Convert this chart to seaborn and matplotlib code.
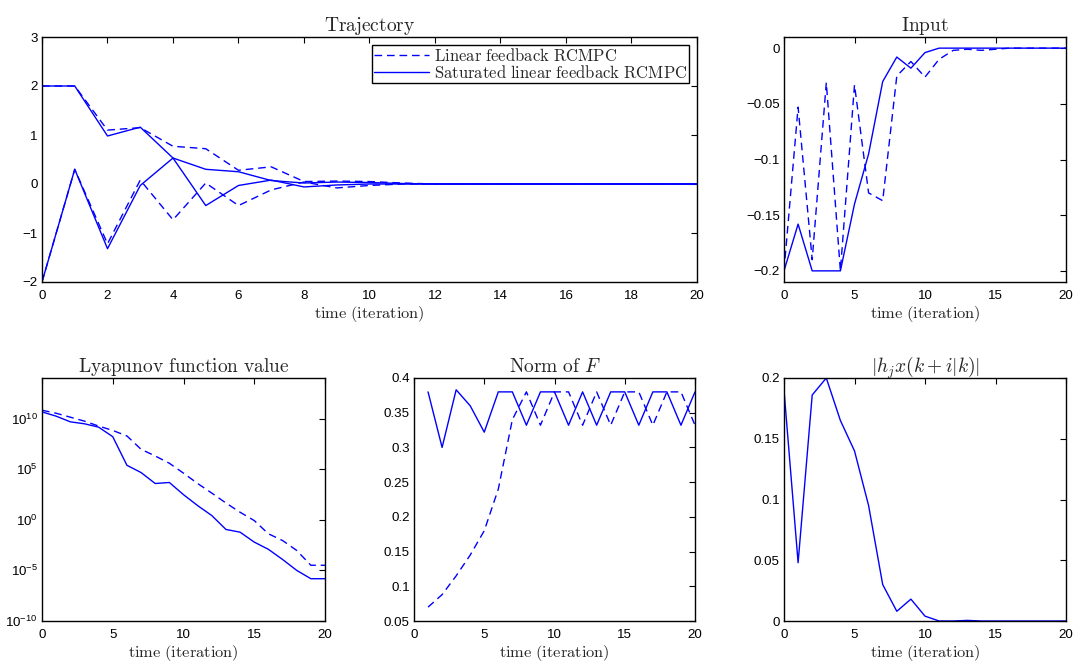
import numpy as np
import pandas as pd
import matplotlib
matplotlib.use("Agg")
import matplotlib.pyplot as plt
from matplotlib.ticker import FuncFormatter, FixedLocator, NullLocator
import seaborn as sns

# ---- data -------------------------------------------------------------
k = list(range(21))

# state trajectories (two states) for both controllers
x1_lin = [2, 2, 1.10, 1.15, 0.77, 0.72, 0.28, 0.35, 0.05, 0.06, 0.05, 0.02, 0.0,
          0.0, 0.0, 0.0, 0.0, 0.0, 0.0, 0.0, 0.0]
x2_lin = [-2, 0.30, -1.22, 0.08, -0.73, 0.02, -0.44, -0.12, 0.04, -0.08, -0.03, 0.0, 0.0,
          0.0, 0.0, 0.0, 0.0, 0.0, 0.0, 0.0, 0.0]
x1_sat = [2, 2, 0.98, 1.16, 0.53, 0.30, 0.25, 0.07, 0.02, 0.04, 0.03, 0.01, 0.0,
          0.0, 0.0, 0.0, 0.0, 0.0, 0.0, 0.0, 0.0]
x2_sat = [-2, 0.30, -1.32, -0.03, 0.53, -0.44, -0.03, 0.08, -0.06, -0.02, 0.0, 0.0, 0.0,
          0.0, 0.0, 0.0, 0.0, 0.0, 0.0, 0.0, 0.0]

# control input
u_lin = [-0.200, -0.053, -0.190, -0.031, -0.200, -0.033, -0.130, -0.137, -0.025, -0.012,
         -0.026, -0.010, -0.002, -0.001, -0.002, -0.001, 0.0, 0.0, 0.0, 0.0, 0.0]
u_sat = [-0.200, -0.158, -0.200, -0.200, -0.200, -0.140, -0.095, -0.030, -0.008, -0.018,
         -0.004, 0.0, 0.0, 0.0, 0.0, 0.0, 0.0, 0.0, 0.0, 0.0, 0.0]

# Lyapunov function value
V_lin = [6.6e10, 3.3e10, 1.35e10, 5.5e9, 1.8e9, 6.6e8, 1.9e8, 9.1e6, 2.0e6, 3.8e5,
         4.0e4, 3.8e3, 4.3e2, 4.5e1, 5.5e0, 8.3e-1, 4.1e-2, 8.9e-3, 9.3e-4, 3.2e-5, 3.2e-5]
V_sat = [4.5e10, 1.7e10, 4.7e9, 3.0e9, 1.4e9, 1.6e8, 2.4e5, 4.6e4, 3.8e3, 4.8e3,
         3.0e2, 2.5e1, 2.6e0, 1.1e-1, 5.9e-2, 6.2e-3, 1.2e-3, 1.2e-4, 1.0e-5, 1.5e-6, 1.5e-6]

# norm of the feedback gain F (k = 1..20)
kF = list(range(1, 21))
F_lin = [0.070, 0.088, 0.115, 0.145, 0.180, 0.240, 0.340, 0.380, 0.332, 0.380,
         0.380, 0.332, 0.380, 0.332, 0.380, 0.380, 0.332, 0.380, 0.380, 0.332]
F_sat = [0.380, 0.300, 0.383, 0.360, 0.322, 0.380, 0.380, 0.332, 0.380, 0.380,
         0.332, 0.380, 0.332, 0.380, 0.380, 0.332, 0.380, 0.380, 0.332, 0.380]

# constraint quantity |h_j x(k+i|k)|
h_sat = [0.190, 0.048, 0.186, 0.200, 0.165, 0.140, 0.095, 0.030, 0.008, 0.018,
         0.004, 0.0, 0.0, 0.0005, 0.0, 0.0, 0.0, 0.0, 0.0, 0.0, 0.0]

# ---- style ------------------------------------------------------------
sns.set_style("white")
plt.rcParams["font.family"] = ["Liberation Sans", "DejaVu Sans"]
plt.rcParams["mathtext.fontset"] = "cm"
plt.rcParams["axes.linewidth"] = 1.0
plt.rcParams["axes.edgecolor"] = "black"

BLUE = (0, 0, 1)
DASH = (0, (5.5, 3.5))
TICK_FS = 9.6
TITLE_FS = 14
LABEL_FS = 11.8

W, H = 1077, 666
fig = plt.figure(figsize=(W / 100, H / 100), dpi=100)


def make_axes(l, r, t, b):
    return fig.add_axes([l / W, 1 - b / H, (r - l) / W, (b - t) / H])


def style(ax, title, xticks, yticks=None, fmt=None):
    ax.set_title(title, fontsize=TITLE_FS, pad=4)
    ax.set_xlabel(r"$\mathrm{time\ (iteration)}$", fontsize=LABEL_FS, labelpad=2)
    ax.set_ylabel("")
    ax.set_xlim(0, 20)
    ax.set_xticks(xticks)
    if yticks is not None:
        ax.set_yticks(yticks)
    if fmt is not None:
        ax.yaxis.set_major_formatter(FuncFormatter(fmt))
    ax.tick_params(direction="in", top=True, right=True, length=4, width=0.8,
                   labelsize=TICK_FS, pad=3, colors="black")
    ax.tick_params(axis="x", pad=5.5)
    for s in ax.spines.values():
        s.set_visible(True)
        s.set_color("black")


def gfmt(v, _):
    s = "%g" % round(v, 6)
    return s.replace("-", "\u2212")


def line(ax, x, y, dashed=False, label=None):
    sns.lineplot(x=x, y=y, ax=ax, color=BLUE, lw=1.0,
                 linestyle=DASH if dashed else "-", label=label, sort=False)


# Trajectory
ax = make_axes(42, 697, 37, 282)
line(ax, k, x1_lin, dashed=True, label=r"$\mathrm{Linear\ feedback\ RCMPC}$")
line(ax, k, x1_sat, label=r"$\mathrm{Saturated\ linear\ feedback\ RCMPC}$")
line(ax, k, x2_lin, dashed=True)
line(ax, k, x2_sat)
ax.set_ylim(-2, 3)
style(ax, r"$\mathrm{Trajectory}$", range(0, 21, 2), range(-2, 4), gfmt)
leg = ax.legend(loc="upper right", fontsize=12, frameon=True, fancybox=False,
                edgecolor="black", framealpha=1, borderpad=0.1, labelspacing=0.0,
                handlelength=3.3, handletextpad=0.3, borderaxespad=0.5)
leg.get_frame().set_linewidth(1.0)

# Input
ax = make_axes(784, 1066, 37, 282)
line(ax, k, u_lin, dashed=True)
line(ax, k, u_sat)
ax.set_ylim(-0.21, 0.01)
style(ax, r"$\mathrm{Input}$", range(0, 21, 5), [-0.2, -0.15, -0.1, -0.05, 0], gfmt)

# Lyapunov function value
ax = make_axes(42, 325, 378, 621)
line(ax, k, V_lin, dashed=True)
line(ax, k, V_sat)
ax.set_yscale("log")
ax.set_ylim(1e-10, 1e14)
style(ax, r"$\mathrm{Lyapunov\ function\ value}$", range(0, 21, 5))
ax.yaxis.set_major_locator(FixedLocator([1e-10, 1e-5, 1e0, 1e5, 1e10]))
ax.yaxis.set_minor_locator(NullLocator())
ax.yaxis.set_major_formatter(FuncFormatter(
    lambda v, _: r"$\mathdefault{10^{%d}}$" % int(round(np.log10(v)))))

# Norm of F
ax = make_axes(414, 695, 378, 621)
line(ax, kF, F_lin, dashed=True)
line(ax, kF, F_sat)
ax.set_ylim(0.05, 0.4)
style(ax, r"$\mathrm{Norm\ of\ }F$", range(0, 21, 5),
      [0.05, 0.1, 0.15, 0.2, 0.25, 0.3, 0.35, 0.4], gfmt)

# |h_j x(k+i|k)|
ax = make_axes(784, 1066, 378, 621)
line(ax, k, h_sat)
ax.set_ylim(0, 0.2)
style(ax, r"$|h_jx(k+i|k)|$", range(0, 21, 5), [0, 0.05, 0.1, 0.15, 0.2], gfmt)

fig.savefig("out.png", dpi=100)
